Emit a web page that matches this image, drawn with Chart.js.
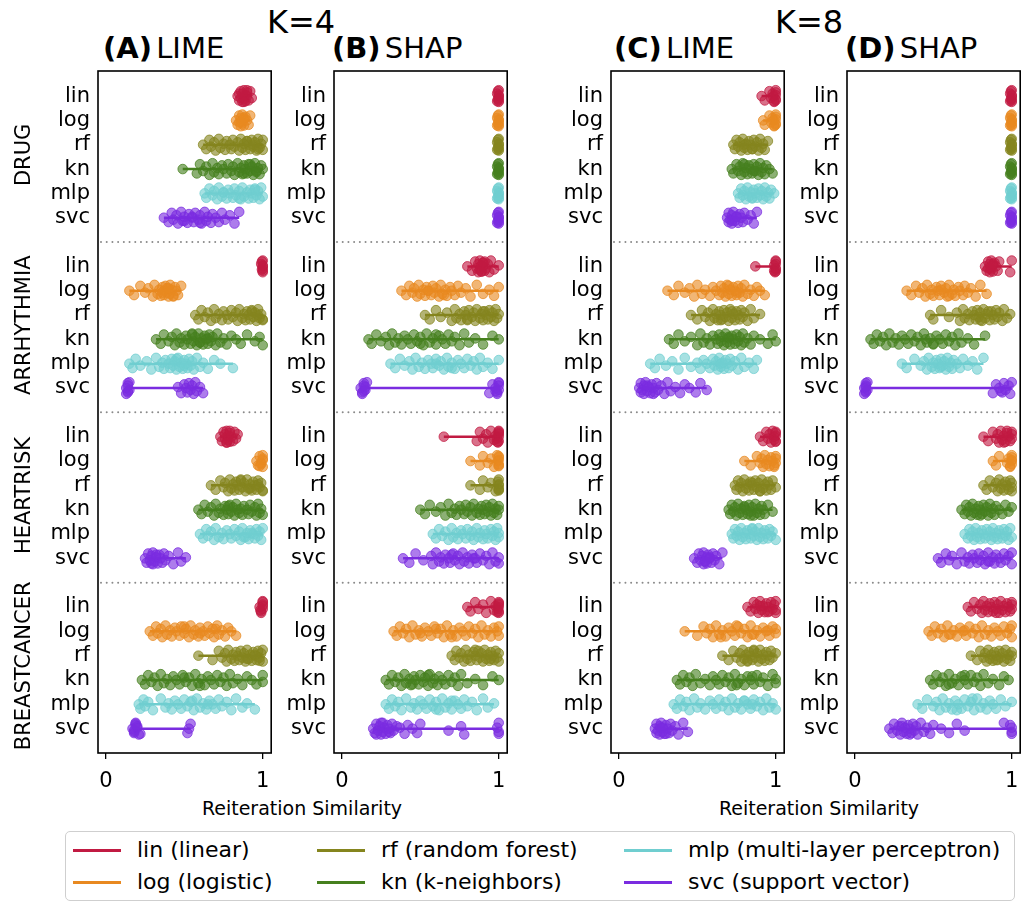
<!DOCTYPE html>
<html>
<head>
<meta charset="utf-8">
<script src="https://cdn.jsdelivr.net/npm/chart.js@4.4.0/dist/chart.umd.min.js"></script>
<style>
  body { margin: 0; width: 1021px; height: 903px; overflow: hidden; position: relative; background: #fff; font-family: "DejaVu Sans", sans-serif; color: #000; }
  canvas { position: absolute; }
  .t { position: absolute; white-space: nowrap; line-height: 1; }
  .legend { position: absolute; left: 65px; top: 831px; width: 948px; height: 68px; border: 1px solid #cfcfcf; border-radius: 5px; }
  .item { position: absolute; height: 30px; display: flex; align-items: center; font-size: 22px; line-height: 1; white-space: nowrap; }
  .item i { display: inline-block; width: 48px; height: 3px; margin-right: 16px; }
</style>
</head>
<body>
<div class="t" style="left:267px;top:6px;font-size:32px">K=4</div>
<div class="t" style="left:775px;top:6px;font-size:32px">K=8</div>
<div class="t" style="left:103px;top:34px;font-size:29px;word-spacing:-5px"><b>(A)</b> LIME</div>
<div class="t" style="left:332px;top:34px;font-size:29px;word-spacing:-5px"><b>(B)</b> SHAP</div>
<div class="t" style="left:614px;top:34px;font-size:29px;word-spacing:-5px"><b>(C)</b> LIME</div>
<div class="t" style="left:845px;top:34px;font-size:29px;word-spacing:-5px"><b>(D)</b> SHAP</div>
<div class="t" style="left:102px;width:400px;text-align:center;top:799px;font-size:19px">Reiteration Similarity</div>
<div class="t" style="left:619px;width:400px;text-align:center;top:799px;font-size:19px">Reiteration Similarity</div>
<div class="legend"></div>
<script>
const models = ["lin", "log", "rf", "kn", "mlp", "svc"];
const modelNames = ["lin (linear)", "log (logistic)", "rf (random forest)", "kn (k-neighbors)", "mlp (multi-layer perceptron)", "svc (support vector)"];
const groups = ["DRUG", "ARRHYTHMIA", "HEARTRISK", "BREASTCANCER"];
const xTicks = [0, 1];

// rows: DRUG lin..svc, ARRHYTHMIA lin..svc, HEARTRISK lin..svc, BREASTCANCER lin..svc
const limeK4 = [
  [0.84,0.85,0.86,0.86,0.87,0.87,0.88,0.88,0.89,0.89,0.9,0.9,0.91,0.92,0.93,0.85,0.88,0.9],
  [0.83,0.84,0.85,0.85,0.86,0.86,0.87,0.87,0.88,0.88,0.89,0.9,0.91,0.92,0.86,0.88],
  [0.62,0.64,0.66,0.67,0.69,0.7,0.72,0.73,0.75,0.76,0.77,0.79,0.8,0.81,0.82,0.84,0.85,0.86,0.87,0.88,0.89,0.9,0.91,0.92,0.93,0.94,0.95,0.96,0.97,0.98,0.99,1.0,0.9,0.94,0.97,1.0],
  [0.49,0.58,0.6,0.62,0.64,0.66,0.68,0.69,0.71,0.72,0.74,0.75,0.77,0.78,0.8,0.81,0.82,0.84,0.85,0.86,0.87,0.88,0.89,0.9,0.91,0.92,0.93,0.94,0.95,0.96,0.97,0.98,0.99,1.0,0.88,0.92,0.96],
  [0.63,0.64,0.66,0.68,0.69,0.71,0.72,0.74,0.75,0.77,0.78,0.79,0.81,0.82,0.83,0.85,0.86,0.87,0.88,0.9,0.91,0.92,0.93,0.94,0.95,0.96,0.97,0.98,0.99,1.0,0.75,0.85,0.95],
  [0.37,0.4,0.42,0.43,0.45,0.46,0.48,0.49,0.5,0.52,0.53,0.55,0.56,0.57,0.59,0.6,0.61,0.63,0.64,0.65,0.67,0.68,0.7,0.72,0.74,0.76,0.79,0.82,0.85,0.5,0.55,0.6],
  [1,1,0.995,1,0.99,1,1,0.995,1],
  [0.15,0.18,0.22,0.25,0.27,0.3,0.31,0.33,0.34,0.35,0.36,0.37,0.37,0.38,0.39,0.39,0.4,0.41,0.41,0.42,0.43,0.44,0.45,0.46,0.48,0.36,0.4,0.43],
  [0.57,0.59,0.61,0.63,0.65,0.67,0.69,0.7,0.72,0.74,0.75,0.77,0.78,0.8,0.81,0.83,0.84,0.85,0.87,0.88,0.89,0.9,0.91,0.92,0.93,0.94,0.95,0.96,0.97,0.98,0.99,1.0,0.93,0.97,1.0],
  [0.32,0.35,0.37,0.4,0.42,0.44,0.45,0.47,0.48,0.5,0.51,0.52,0.54,0.55,0.56,0.57,0.58,0.59,0.6,0.61,0.62,0.63,0.64,0.65,0.66,0.67,0.68,0.7,0.71,0.73,0.75,0.77,0.8,0.83,0.86,0.9,0.95,0.98,1.0,0.55,0.6,0.65],
  [0.15,0.17,0.19,0.22,0.26,0.29,0.32,0.34,0.36,0.37,0.38,0.4,0.41,0.42,0.43,0.44,0.45,0.46,0.47,0.48,0.49,0.5,0.51,0.52,0.53,0.54,0.55,0.56,0.58,0.6,0.62,0.65,0.69,0.73,0.81,0.45,0.5],
  [0.13,0.14,0.14,0.15,0.14,0.13,0.15,0.14,0.46,0.48,0.5,0.51,0.52,0.53,0.54,0.55,0.56,0.57,0.58,0.6,0.62],
  [0.73,0.74,0.75,0.76,0.76,0.77,0.77,0.78,0.78,0.79,0.79,0.8,0.81,0.82,0.83,0.84,0.77,0.79],
  [0.96,0.97,0.98,0.99,1,1,1,0.99,1,0.98],
  [0.67,0.7,0.73,0.75,0.76,0.78,0.79,0.8,0.81,0.82,0.83,0.84,0.85,0.86,0.87,0.88,0.89,0.9,0.91,0.92,0.93,0.94,0.95,0.96,0.97,0.98,0.99,1.0,0.86,0.92,0.97,1.0],
  [0.59,0.61,0.63,0.65,0.67,0.69,0.7,0.72,0.73,0.75,0.76,0.77,0.78,0.79,0.8,0.81,0.82,0.83,0.85,0.86,0.87,0.88,0.9,0.91,0.92,0.93,0.95,0.96,0.97,0.98,0.99,1.0,0.78,0.84],
  [0.6,0.62,0.64,0.65,0.67,0.69,0.7,0.72,0.74,0.75,0.77,0.79,0.8,0.82,0.83,0.85,0.86,0.87,0.89,0.9,0.91,0.92,0.94,0.95,0.96,0.97,0.98,0.99,1.0,0.88,0.93],
  [0.25,0.26,0.27,0.28,0.29,0.3,0.3,0.31,0.32,0.33,0.34,0.35,0.36,0.37,0.38,0.4,0.43,0.46,0.48,0.51,0.29,0.32],
  [0.98,0.99,1,1,1,0.99,1,0.985,1],
  [0.28,0.3,0.32,0.33,0.35,0.36,0.38,0.39,0.41,0.42,0.44,0.45,0.47,0.48,0.5,0.51,0.53,0.54,0.56,0.57,0.59,0.6,0.62,0.63,0.65,0.66,0.68,0.69,0.71,0.72,0.74,0.76,0.78,0.8,0.83,0.5,0.6,0.7],
  [0.59,0.68,0.72,0.74,0.76,0.77,0.78,0.8,0.81,0.82,0.83,0.84,0.85,0.86,0.87,0.88,0.89,0.9,0.91,0.92,0.93,0.94,0.95,0.96,0.97,0.98,0.99,1.0,1.0,0.9,0.95,0.98],
  [0.23,0.25,0.27,0.29,0.31,0.33,0.35,0.37,0.39,0.41,0.43,0.45,0.47,0.49,0.51,0.53,0.55,0.57,0.59,0.61,0.63,0.65,0.67,0.69,0.71,0.73,0.75,0.77,0.79,0.81,0.84,0.87,0.9,0.93,0.96,1.0,1.0,0.5,0.6],
  [0.21,0.22,0.24,0.25,0.27,0.3,0.35,0.38,0.4,0.42,0.44,0.46,0.48,0.5,0.52,0.54,0.56,0.58,0.6,0.62,0.64,0.66,0.68,0.7,0.72,0.74,0.77,0.8,0.83,0.87,0.9,0.95,0.55,0.65],
  [0.17,0.18,0.19,0.18,0.2,0.21,0.19,0.18,0.2,0.22,0.19,0.53,0.52,0.54]
];

const shapK4 = [
  [1,1,0.995,1,0.99,1,1,0.995,1,0.99],
  [1,1,0.995,1,0.99,1,1,0.995,1,0.99],
  [1,1,0.995,1,0.99,1,1,0.995,1,0.99],
  [1,1,0.995,1,0.99,1,1,0.995,1,0.99],
  [1,1,0.995,1,0.99,1,1,0.995,1,0.99],
  [1,1,0.995,1,0.99,1,1,0.995,1,0.99],
  [0.8,0.83,0.85,0.86,0.87,0.87,0.88,0.88,0.89,0.89,0.9,0.9,0.91,0.91,0.92,0.93,0.94,0.95,0.97,1.0,0.89,0.9],
  [0.38,0.41,0.43,0.45,0.46,0.48,0.49,0.5,0.52,0.53,0.54,0.55,0.57,0.58,0.59,0.6,0.62,0.63,0.64,0.66,0.67,0.69,0.7,0.72,0.74,0.76,0.79,0.82,0.86,0.9,0.94,0.97,1.0,0.55,0.65],
  [0.53,0.56,0.6,0.63,0.67,0.7,0.72,0.73,0.75,0.76,0.78,0.79,0.8,0.81,0.83,0.84,0.85,0.86,0.88,0.89,0.9,0.91,0.92,0.93,0.94,0.95,0.96,0.97,0.98,0.99,1.0,0.8,0.9],
  [0.17,0.19,0.22,0.25,0.28,0.3,0.32,0.34,0.36,0.38,0.4,0.42,0.44,0.46,0.48,0.5,0.52,0.54,0.56,0.58,0.6,0.62,0.64,0.66,0.68,0.7,0.72,0.75,0.78,0.81,0.85,0.9,0.96,1.0,0.5,0.6],
  [0.31,0.34,0.37,0.4,0.43,0.45,0.47,0.49,0.51,0.53,0.55,0.57,0.58,0.6,0.62,0.63,0.65,0.67,0.68,0.7,0.72,0.74,0.76,0.78,0.8,0.82,0.84,0.86,0.88,0.9,0.93,0.96,1.0,0.6,0.7],
  [0.12,0.13,0.14,0.15,0.14,0.13,0.16,0.14,0.15,0.94,0.96,0.98,0.99,1,1,1,0.99,1,0.98],
  [0.65,0.86,0.88,0.9,0.92,0.93,0.95,0.97,0.98,0.99,1,1,1,1,0.99,1,0.995,1],
  [0.82,0.88,0.9,0.93,0.95,0.97,0.99,1,1,1,1,0.995,1,1],
  [0.82,0.88,0.9,0.93,0.95,0.98,1,1,1,1,0.995,1,1],
  [0.5,0.53,0.56,0.6,0.63,0.66,0.68,0.7,0.72,0.73,0.75,0.76,0.78,0.79,0.8,0.82,0.83,0.84,0.86,0.87,0.88,0.89,0.9,0.91,0.92,0.93,0.94,0.95,0.96,0.97,0.98,0.99,1.0,1.0],
  [0.58,0.6,0.62,0.64,0.66,0.68,0.7,0.71,0.73,0.74,0.76,0.77,0.79,0.8,0.82,0.83,0.84,0.86,0.87,0.88,0.9,0.91,0.92,0.93,0.95,0.96,0.97,0.98,0.99,1.0,1.0],
  [0.39,0.43,0.47,0.52,0.57,0.58,0.6,0.62,0.63,0.65,0.66,0.68,0.69,0.71,0.72,0.74,0.75,0.77,0.78,0.8,0.81,0.83,0.84,0.86,0.88,0.9,0.92,0.94,0.96,0.98,1.0,1.0,0.7,0.85],
  [0.8,0.82,0.85,0.87,0.9,0.92,0.95,0.97,0.98,0.99,1,1,1,1,0.995,1,1],
  [0.33,0.35,0.37,0.39,0.41,0.43,0.45,0.47,0.49,0.51,0.53,0.55,0.57,0.59,0.61,0.63,0.65,0.67,0.69,0.71,0.73,0.75,0.77,0.79,0.81,0.83,0.85,0.87,0.89,0.91,0.93,0.95,0.97,0.99,1.0,1.0,0.5,0.6,0.7],
  [0.7,0.72,0.73,0.75,0.76,0.78,0.79,0.8,0.81,0.82,0.84,0.85,0.86,0.87,0.88,0.89,0.9,0.91,0.92,0.93,0.94,0.95,0.96,0.97,0.98,0.99,1.0,1.0,0.85,0.95],
  [0.28,0.3,0.32,0.34,0.36,0.38,0.4,0.41,0.43,0.44,0.46,0.47,0.49,0.5,0.52,0.53,0.55,0.56,0.58,0.59,0.61,0.62,0.64,0.66,0.68,0.7,0.72,0.74,0.76,0.8,0.85,0.9,0.96,1.0,0.45,0.55],
  [0.28,0.3,0.32,0.34,0.36,0.38,0.41,0.44,0.46,0.48,0.5,0.52,0.54,0.56,0.58,0.6,0.62,0.64,0.66,0.68,0.7,0.72,0.74,0.76,0.78,0.8,0.83,0.86,0.9,0.93,0.97,0.6,0.7],
  [0.2,0.21,0.22,0.23,0.24,0.25,0.25,0.26,0.27,0.28,0.29,0.3,0.31,0.32,0.33,0.35,0.22,0.26,0.3,0.37,0.4,0.42,0.45,0.48,0.5,0.68,0.76,0.78,1,1,0.99,1]
];

const limeK8 = [
  [0.91,0.93,0.96,0.97,0.98,0.99,1,1,1,0.99,1,0.985,1],
  [0.92,0.93,0.96,0.97,0.98,0.99,1,1,1,0.99,1,0.985,1],
  [0.73,0.74,0.75,0.76,0.77,0.78,0.79,0.8,0.81,0.82,0.83,0.84,0.85,0.86,0.87,0.88,0.89,0.9,0.91,0.92,0.93,0.95,0.8,0.85],
  [0.72,0.73,0.75,0.76,0.77,0.78,0.79,0.8,0.81,0.82,0.83,0.84,0.85,0.86,0.87,0.88,0.89,0.9,0.91,0.92,0.93,0.94,0.96,0.98,0.8,0.86],
  [0.76,0.77,0.78,0.79,0.8,0.81,0.82,0.83,0.84,0.85,0.86,0.87,0.88,0.89,0.9,0.91,0.92,0.93,0.94,0.95,0.96,0.97,0.99,0.85],
  [0.69,0.7,0.7,0.71,0.72,0.72,0.73,0.74,0.75,0.76,0.77,0.78,0.79,0.8,0.82,0.84,0.86,0.88,0.72,0.75],
  [0.87,0.99,1,1,1,0.995,1,1,0.99,1],
  [0.31,0.35,0.38,0.42,0.45,0.48,0.5,0.53,0.55,0.58,0.6,0.62,0.64,0.65,0.66,0.67,0.68,0.69,0.7,0.71,0.72,0.73,0.74,0.75,0.76,0.77,0.78,0.79,0.8,0.82,0.84,0.86,0.88,0.9,0.93,0.7,0.75],
  [0.46,0.5,0.53,0.55,0.57,0.58,0.6,0.61,0.62,0.63,0.64,0.65,0.66,0.67,0.68,0.69,0.7,0.71,0.72,0.73,0.74,0.75,0.76,0.77,0.78,0.79,0.8,0.82,0.84,0.86,0.9,0.65,0.72],
  [0.32,0.35,0.38,0.42,0.46,0.5,0.52,0.54,0.56,0.58,0.6,0.62,0.63,0.64,0.65,0.66,0.67,0.68,0.69,0.7,0.71,0.72,0.73,0.74,0.75,0.76,0.77,0.78,0.79,0.8,0.82,0.84,0.86,0.9,0.95,0.98,1.0,0.7],
  [0.2,0.23,0.26,0.3,0.34,0.38,0.42,0.46,0.5,0.52,0.54,0.56,0.58,0.6,0.61,0.62,0.63,0.64,0.65,0.66,0.67,0.68,0.69,0.7,0.71,0.72,0.74,0.76,0.78,0.8,0.83,0.86,0.88,0.65],
  [0.13,0.14,0.14,0.15,0.16,0.16,0.17,0.18,0.19,0.2,0.21,0.22,0.23,0.24,0.25,0.27,0.29,0.31,0.33,0.36,0.39,0.42,0.45,0.49,0.52,0.56,0.18,0.22],
  [0.9,0.92,0.94,0.95,0.96,0.97,0.98,0.99,1,1,1,0.99,1,1],
  [0.8,0.84,0.88,0.9,0.91,0.92,0.93,0.94,0.95,0.96,0.97,0.98,0.99,1,1,1,0.99],
  [0.74,0.75,0.76,0.77,0.78,0.79,0.8,0.81,0.82,0.83,0.84,0.85,0.86,0.87,0.88,0.89,0.9,0.91,0.92,0.93,0.94,0.95,0.96,0.97,0.98,1.0,0.85,0.9],
  [0.7,0.71,0.72,0.73,0.74,0.75,0.76,0.77,0.78,0.79,0.8,0.81,0.82,0.83,0.84,0.85,0.86,0.87,0.88,0.89,0.9,0.91,0.92,0.93,0.95,0.98,0.8,0.84],
  [0.72,0.73,0.74,0.75,0.76,0.77,0.78,0.79,0.8,0.81,0.82,0.83,0.84,0.85,0.86,0.87,0.88,0.89,0.9,0.91,0.92,0.93,0.94,0.95,0.96,0.97,0.98,1.0,0.85],
  [0.48,0.5,0.51,0.52,0.53,0.54,0.54,0.55,0.56,0.56,0.57,0.58,0.59,0.6,0.61,0.62,0.64,0.66,0.55,0.58],
  [0.82,0.84,0.86,0.87,0.88,0.89,0.9,0.91,0.92,0.93,0.94,0.95,0.96,0.97,0.98,0.99,1,1,1,0.9,0.95],
  [0.42,0.5,0.54,0.56,0.58,0.6,0.62,0.64,0.66,0.68,0.7,0.72,0.74,0.76,0.78,0.8,0.82,0.84,0.86,0.88,0.9,0.92,0.94,0.96,0.98,1.0,1.0,0.65,0.75,0.85,0.95],
  [0.66,0.7,0.73,0.75,0.77,0.78,0.79,0.8,0.81,0.82,0.83,0.84,0.85,0.86,0.87,0.88,0.89,0.9,0.91,0.92,0.93,0.94,0.95,0.96,0.97,0.98,1.0,0.82,0.86],
  [0.37,0.39,0.41,0.43,0.45,0.47,0.49,0.52,0.55,0.58,0.6,0.62,0.64,0.66,0.68,0.7,0.72,0.74,0.76,0.78,0.8,0.82,0.84,0.86,0.88,0.9,0.92,0.95,0.98,1.0,1.0,0.75,0.85],
  [0.35,0.37,0.39,0.41,0.43,0.45,0.48,0.5,0.52,0.55,0.58,0.6,0.62,0.64,0.66,0.68,0.7,0.72,0.74,0.76,0.78,0.8,0.82,0.84,0.86,0.88,0.9,0.92,0.94,0.96,0.98,1.0,0.8,0.85],
  [0.23,0.24,0.24,0.25,0.26,0.26,0.27,0.28,0.28,0.29,0.3,0.31,0.32,0.33,0.34,0.36,0.38,0.41,0.44,0.27,0.3]
];

const shapK8 = [
  [1,1,0.995,1,0.99,1,1,0.995,1,0.99],
  [1,1,0.995,1,0.99,1,1,0.995,1,0.99],
  [1,1,0.995,1,0.99,1,1,0.995,1,0.99],
  [1,1,0.995,1,0.99,1,1,0.995,1,0.99],
  [1,1,0.995,1,0.99,1,1,0.995,1,0.99],
  [1,1,0.995,1,0.99,1,1,0.995,1,0.99],
  [0.83,0.84,0.85,0.85,0.86,0.86,0.87,0.87,0.88,0.88,0.89,0.9,0.91,0.92,0.86,0.88,0.99,1.0],
  [0.33,0.36,0.39,0.41,0.43,0.45,0.46,0.48,0.49,0.5,0.52,0.53,0.54,0.55,0.57,0.58,0.59,0.6,0.62,0.63,0.64,0.66,0.67,0.69,0.7,0.72,0.74,0.77,0.8,0.84,0.55,0.6],
  [0.48,0.5,0.55,0.6,0.65,0.67,0.69,0.7,0.72,0.73,0.75,0.76,0.77,0.78,0.79,0.8,0.81,0.82,0.83,0.84,0.86,0.87,0.88,0.89,0.9,0.91,0.92,0.94,0.95,0.97,0.99,0.8,0.85],
  [0.1,0.12,0.14,0.16,0.18,0.2,0.22,0.24,0.26,0.28,0.3,0.32,0.34,0.36,0.38,0.4,0.42,0.44,0.46,0.48,0.5,0.52,0.54,0.56,0.58,0.6,0.62,0.64,0.66,0.68,0.72,0.76,0.83,0.45,0.5],
  [0.3,0.33,0.38,0.42,0.44,0.46,0.47,0.49,0.5,0.51,0.52,0.53,0.54,0.55,0.56,0.57,0.58,0.59,0.6,0.61,0.62,0.63,0.65,0.67,0.69,0.72,0.75,0.78,0.82,0.55],
  [0.06,0.07,0.07,0.08,0.07,0.06,0.08,0.07,0.07,0.88,0.9,0.92,0.94,0.95,0.96,0.98,0.99,1.0,0.93],
  [0.82,0.85,0.88,0.9,0.91,0.92,0.93,0.94,0.95,0.96,0.97,0.98,0.99,1,1,1,0.95,0.97],
  [0.88,0.9,0.92,0.97,0.98,0.99,1,1,1,0.99,1,1],
  [0.82,0.84,0.86,0.88,0.9,0.91,0.92,0.93,0.94,0.95,0.96,0.97,0.98,0.99,1,1,1],
  [0.68,0.7,0.71,0.72,0.73,0.74,0.75,0.76,0.77,0.78,0.79,0.8,0.81,0.82,0.83,0.84,0.85,0.86,0.87,0.88,0.89,0.9,0.92,0.94,0.96,0.98,1.0,0.8],
  [0.7,0.72,0.73,0.74,0.75,0.76,0.77,0.78,0.79,0.8,0.81,0.82,0.83,0.84,0.85,0.86,0.87,0.88,0.89,0.9,0.91,0.92,0.93,0.94,0.95,0.96,0.97,0.98,0.99,1.0],
  [0.53,0.55,0.58,0.6,0.62,0.65,0.68,0.7,0.72,0.73,0.75,0.76,0.78,0.79,0.8,0.82,0.83,0.85,0.86,0.88,0.89,0.9,0.92,0.93,0.95,0.96,0.98,1.0,1.0,0.85],
  [0.72,0.74,0.76,0.78,0.8,0.81,0.82,0.83,0.84,0.85,0.86,0.87,0.88,0.89,0.9,0.91,0.92,0.93,0.94,0.95,0.96,0.97,0.98,0.99,1,1,1,0.9],
  [0.47,0.49,0.51,0.53,0.55,0.57,0.59,0.61,0.63,0.65,0.67,0.69,0.71,0.73,0.75,0.77,0.79,0.81,0.83,0.85,0.87,0.89,0.91,0.93,0.95,0.97,0.99,1.0,1.0,0.6,0.7],
  [0.74,0.78,0.8,0.82,0.83,0.84,0.85,0.86,0.87,0.88,0.89,0.9,0.91,0.92,0.93,0.94,0.95,0.96,0.97,0.98,0.99,1.0,1.0,0.9],
  [0.48,0.5,0.52,0.54,0.56,0.58,0.6,0.62,0.64,0.66,0.68,0.7,0.72,0.74,0.76,0.78,0.8,0.82,0.85,0.88,0.92,0.95,0.98,0.6,0.7],
  [0.4,0.43,0.46,0.5,0.52,0.54,0.56,0.58,0.6,0.62,0.64,0.66,0.68,0.7,0.72,0.74,0.76,0.78,0.8,0.82,0.84,0.86,0.88,0.9,0.93,0.96,1.0,0.65,0.75],
  [0.22,0.24,0.25,0.27,0.28,0.29,0.3,0.31,0.32,0.33,0.34,0.35,0.36,0.37,0.38,0.39,0.4,0.42,0.44,0.46,0.48,0.5,0.55,0.6,0.65,0.7,0.3,0.35,0.95,1,1,1,0.99]
];

const panelData = [limeK4, shapK4, limeK8, shapK8];

// layout / style
const COLORS = ["193,26,66", "232,137,32", "133,133,30", "70,128,30", "112,206,208", "122,44,224"];
const JITTER = [0, 0.18, -0.2, 0.08, -0.1, 0.24, -0.24, 0.13, -0.04, 0.21, -0.15];
const BOX_LEFT = [98, 334, 611, 847];
const AXIS_W = [98, 80, 80, 80];
const BOX_W = 175, BOX_TOP = 71, PLOT_H = 682, PAD_TOP = 6, PAD_RIGHT = 4, X_H = 45;
const FONT = "DejaVu Sans";

const rowPos = (g, k) => g * 7 + k;

const framePlugin = {
  id: "frame",
  beforeDatasetsDraw(chart) {
    const { ctx, chartArea: a } = chart;
    const y = chart.scales.y;
    ctx.save();
    ctx.strokeStyle = "#8a8a8a";
    ctx.lineWidth = 2;
    ctx.lineCap = "round";
    ctx.setLineDash([0.01, 5.7]);
    for (let g = 0; g < groups.length - 1; g++) {
      const py = y.getPixelForValue(g * 7 + 6);
      ctx.beginPath();
      ctx.moveTo(a.left + 3, py);
      ctx.lineTo(a.right, py);
      ctx.stroke();
    }
    ctx.restore();
  },
  afterDraw(chart, args, opts) {
    const { ctx, chartArea: a } = chart;
    ctx.save();
    ctx.strokeStyle = "#000";
    ctx.lineWidth = 1.6;
    ctx.strokeRect(a.left, a.top, a.right - a.left, a.bottom - a.top);
    if (opts.groupLabels) {
      const y = chart.scales.y;
      ctx.fillStyle = "#000";
      ctx.font = "21px '" + FONT + "'";
      ctx.textAlign = "center";
      ctx.textBaseline = "alphabetic";
      groups.forEach((name, g) => {
        ctx.save();
        ctx.translate(30, y.getPixelForValue(g * 7 + 2.5) - 2);
        ctx.rotate(-Math.PI / 2);
        ctx.fillText(name, 0, 0);
        ctx.restore();
      });
    }
    ctx.restore();
  }
};

panelData.forEach((rows, p) => {
  const cv = document.createElement("canvas");
  const w = AXIS_W[p] + BOX_W + PAD_RIGHT;
  const h = PAD_TOP + PLOT_H + X_H;
  cv.width = w;
  cv.height = h;
  cv.style.left = (BOX_LEFT[p] - AXIS_W[p]) + "px";
  cv.style.top = (BOX_TOP - PAD_TOP) + "px";
  document.body.appendChild(cv);

  const datasets = [];
  models.forEach((m, k) => {
    const pts = [];
    groups.forEach((gName, g) => {
      rows[g * 6 + k].forEach((v, i) => pts.push({ x: v, y: rowPos(g, k) + JITTER[i % JITTER.length] }));
    });
    datasets.push({
      label: m,
      data: pts,
      order: 0,
      pointRadius: 4.8,
      pointBackgroundColor: "rgba(" + COLORS[k] + ",0.62)",
      pointBorderColor: "rgba(" + COLORS[k] + ",0.75)",
      pointBorderWidth: 1
    });
    groups.forEach((gName, g) => {
      const vals = rows[g * 6 + k];
      datasets.push({
        label: m + " " + gName,
        data: [{ x: Math.min(...vals), y: rowPos(g, k) }, { x: Math.max(...vals), y: rowPos(g, k) }],
        order: 1,
        showLine: true,
        borderColor: "rgb(" + COLORS[k] + ")",
        borderWidth: 2.5,
        pointRadius: 0
      });
    });
  });

  const yTicks = [];
  groups.forEach((gName, g) => models.forEach((m, k) => yTicks.push(rowPos(g, k))));

  new Chart(cv, {
    type: "scatter",
    data: { datasets },
    plugins: [framePlugin],
    options: {
      responsive: false,
      animation: false,
      devicePixelRatio: 1,
      layout: { padding: { top: PAD_TOP, right: PAD_RIGHT, left: 0, bottom: 0 } },
      plugins: {
        legend: { display: false },
        tooltip: { enabled: false },
        frame: { groupLabels: p === 0 }
      },
      scales: {
        x: {
          type: "linear",
          min: -0.05,
          max: 1.054,
          afterBuildTicks: s => { s.ticks = xTicks.map(v => ({ value: v })); },
          afterFit: s => { s.height = X_H; s.paddingLeft = 0; s.paddingRight = 0; },
          grid: { drawOnChartArea: false, drawTicks: true, tickLength: 6, color: "#000", lineWidth: 1.3 },
          border: { display: false },
          ticks: { color: "#000", font: { family: FONT, size: 21 }, padding: 10, maxRotation: 0, callback: v => String(v) }
        },
        y: {
          type: "linear",
          reverse: true,
          min: -1.03,
          max: 27,
          afterBuildTicks: s => { s.ticks = yTicks.map(v => ({ value: v })); },
          afterFit: s => { s.width = AXIS_W[p]; s.paddingTop = 0; s.paddingBottom = 0; },
          grid: { display: false, drawTicks: false },
          border: { display: false },
          ticks: { color: "#000", font: { family: FONT, size: 21 }, padding: 8, autoSkip: false, callback: v => models[v % 7] }
        }
      }
    }
  });
});

// legend
const legend = document.querySelector(".legend");
const colX = [73, 317, 624];
const rowY = [850, 882];
modelNames.forEach((name, k) => {
  const col = Math.floor(k / 2), row = k % 2;
  const it = document.createElement("div");
  it.className = "item";
  it.style.left = (colX[col] - 66) + "px";
  it.style.top = (rowY[row] - 15 - 832) + "px";
  it.innerHTML = '<i style="background:rgb(' + COLORS[k] + ')"></i><span>' + name + "</span>";
  legend.appendChild(it);
});
</script>
</body>
</html>
